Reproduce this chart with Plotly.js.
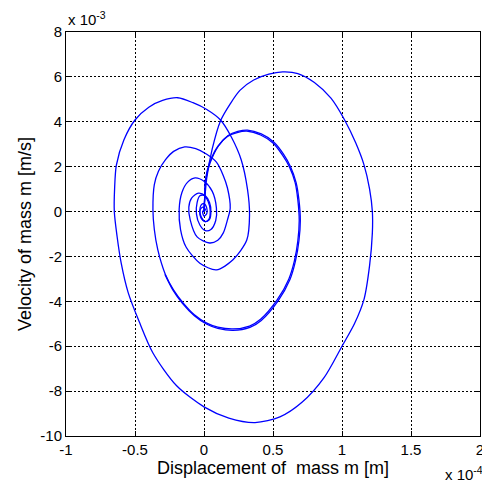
<!DOCTYPE html>
<html>
<head>
<meta charset="utf-8">
<script src="https://cdn.plot.ly/plotly-3.0.1.min.js"></script>
<style>
html,body{margin:0;padding:0;background:#fff;}
#chart{width:482px;height:483px;}
</style>
</head>
<body>
<div id="chart"></div>
<script>
// Displacement in units of 1e-4 m, velocity in units of 1e-3 m/s
const xA = [0,0.005,0.02,0.06,0.12,0.19,0.26,0.36,0.47,0.57,0.68,0.8,0.92,1.02,1.1,1.16,1.2,1.22,1.22,1.2,1.16,1.09,1.0,0.87,0.71,0.55,0.37,0.18,0,-0.2,-0.37,-0.47,-0.55,-0.6,-0.63,-0.65,-0.648,-0.635,-0.58,-0.5,-0.4,-0.3,-0.19,-0.08,0.02,0.12,0.2,0.27,0.315,0.33,0.31,0.21,0.09,-0.03,-0.13,-0.17,-0.18,-0.16,-0.12,-0.065,0.0,0.06,0.09,0.085,0.05,0.01,-0.03,-0.055,-0.05,-0.03,0.0,0.03,0.045,0.035,0.01,-0.02,-0.03,-0.02,0,0.02,0.02,0,-0.01,0];
const yA = [0,0.5,1.5,2.8,4.05,4.8,5.4,5.86,6.12,6.22,6.15,5.75,5.05,4.07,3.05,2.07,1.0,0,-0.95,-2.4,-3.9,-5.0,-6.0,-7.4,-8.5,-9.15,-9.4,-9.2,-8.7,-7.75,-6.3,-4.9,-3.6,-2.3,-1.1,0,1.0,2.07,3.2,4.08,4.65,4.95,5.07,4.85,4.55,4.08,3.3,2.3,1.0,-0.15,-1.27,-2.15,-2.6,-2.3,-1.58,-0.8,0.1,0.85,1.3,1.5,1.35,0.9,0.16,-0.4,-0.8,-0.85,-0.6,-0.1,0.4,0.7,0.72,0.45,0.05,-0.35,-0.45,-0.3,0,0.3,0.35,0.15,-0.1,-0.2,0,0.05];

const xB = [0,0.005,0.01,0.04,0.1,0.17,0.24,0.31,0.41,0.5,0.57,0.62,0.66,0.68,0.69,0.68,0.655,0.615,0.53,0.41,0.33,0.21,0.1,0.02,-0.07,-0.15,-0.22,-0.28,-0.335,-0.36,-0.37,-0.36,-0.33,-0.28,-0.22,-0.14,-0.06,0.02,0.09,0.14,0.17,0.19,0.17,0.14,0.1,0.04,-0.05,-0.1,-0.11,-0.09,-0.04,0.01,0.04,0.05,0.04,0.01,-0.02,-0.03,-0.01,0.01,0];
const yB = [0,0.6,1.4,2.16,2.9,3.35,3.52,3.58,3.41,3.05,2.5,1.98,1.3,0.52,-0.4,-1.3,-2.2,-3.0,-3.94,-4.8,-5.1,-5.23,-5.15,-4.97,-4.6,-4.08,-3.5,-2.8,-1.7,-0.8,0.07,1.2,1.8,2.3,2.68,2.88,2.8,2.55,2.2,1.6,1.05,0.16,-0.37,-0.95,-1.28,-1.4,-1.13,-0.37,0.2,0.6,0.82,0.7,0.4,0,-0.35,-0.45,-0.25,0.05,0.2,0.1,0];

const xB2 = [0,0.005,0.012,0.045,0.105,0.175,0.245,0.315,0.415,0.505,0.577,0.627,0.667,0.688,0.698,0.688,0.663,0.623,0.537,0.415,0.333,0.21,0.1,0.02,-0.07,-0.155,-0.225,-0.283];
const yB2 = [0,0.6,1.4,2.18,2.93,3.39,3.57,3.63,3.46,3.1,2.55,2.0,1.3,0.52,-0.4,-1.3,-2.2,-3.03,-3.98,-4.85,-5.16,-5.29,-5.2,-5.02,-4.64,-4.1,-3.5,-2.8];

const xTicks = [-1,-0.5,0,0.5,1,1.5,2];
const xTickText = ['-1','-0.5','0','0.5','1','1.5','2'];
const yTicks = [-10,-8,-6,-4,-2,0,2,4,6,8];
const yTickText = ['-10','-8','-6','-4','-2','0','2','4','6','8'];

const lineStyle = {color:'#0000ff', width:1.3, shape:'spline', smoothing:0.8};
const traces = [
  {x:xA, y:yA, mode:'lines', line:lineStyle, hoverinfo:'skip'},
  {x:xB, y:yB, mode:'lines', line:lineStyle, hoverinfo:'skip'},
  {x:xB2, y:yB2, mode:'lines', line:lineStyle, hoverinfo:'skip'}
];

const font = {family:'"Liberation Sans", Arial, sans-serif', color:'#000'};
const axisCommon = {
  showline:true, mirror:'ticks', linecolor:'#000', linewidth:1,
  ticks:'inside', ticklen:5, tickcolor:'#000', tickwidth:1,
  showgrid:true, gridcolor:'#000', gridwidth:1, griddash:'2px,2px',
  zeroline:false, ticklabeloverflow:'allow', tickfont:Object.assign({size:15}, font)
};

const layout = {
  width:482, height:483,
  margin:{l:66, r:2, t:32, b:47, pad:0},
  paper_bgcolor:'#fff', plot_bgcolor:'#fff',
  showlegend:false,
  font:font,
  xaxis:Object.assign({}, axisCommon, {
    range:[-1,2], tickmode:'array', tickvals:xTicks, ticktext:xTickText,
    title:{text:'Displacement of \u00a0mass m [m]', font:Object.assign({size:18}, font), standoff:2}
  }),
  yaxis:Object.assign({}, axisCommon, {
    range:[-10,8], tickmode:'array', tickvals:yTicks, ticktext:yTickText,
    title:{text:'Velocity of mass m [m/s]', font:Object.assign({size:18}, font), standoff:4}
  }),
  annotations:[
    {xref:'paper', yref:'paper', x:0, y:1, xanchor:'left', yanchor:'bottom', yshift:2,
     text:'x 10<sup>-3</sup>', showarrow:false, font:Object.assign({size:15}, font)},
    {xref:'paper', yref:'paper', x:0.91, y:0, xanchor:'left', yanchor:'top', yshift:-26,
     text:'x 10<sup>-4</sup>', showarrow:false, font:Object.assign({size:15}, font)}
  ]
};

Plotly.newPlot('chart', traces, layout, {staticPlot:true, displayModeBar:false});
</script>
</body>
</html>
